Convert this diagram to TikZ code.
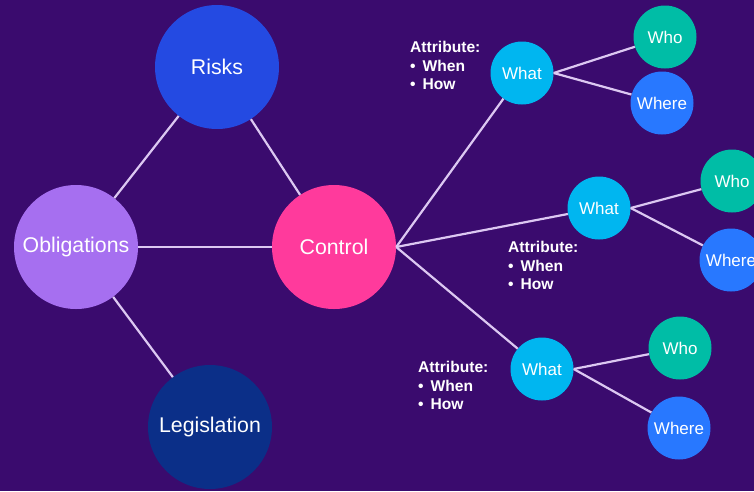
\documentclass[tikz,border=0pt]{standalone}
\usepackage{fontspec}
\setmainfont{Liberation Sans}
\definecolor{bgpurple}{HTML}{3A0B6E}
\definecolor{linkcol}{HTML}{DCC8F2}
\definecolor{oblcol}{HTML}{A66FF0}
\definecolor{riskcol}{HTML}{244AE2}
\definecolor{ctlcol}{HTML}{FF3A9C}
\definecolor{legcol}{HTML}{0B2F88}
\definecolor{whatcol}{HTML}{00B6F0}
\definecolor{whocol}{HTML}{00BDA6}
\definecolor{wherecol}{HTML}{2878FF}

\begin{document}
\begin{tikzpicture}[x=1pt,y=-1pt,
    bigbub/.style={circle,minimum size=124pt,inner sep=0pt,text=white,
      font=\fontsize{21.3}{25}\selectfont},
    smallbub/.style={circle,minimum size=63pt,inner sep=0pt,text=white,
      font=\fontsize{17}{20}\selectfont},
    link/.style={draw=linkcol,line width=2.2pt},
    attr/.style={text=white,font=\bfseries\fontsize{15.6}{18.5}\selectfont,
      align=left,anchor=north west,inner sep=0pt}]
  % background
  \fill[bgpurple] (0,0) rectangle (754,491);
  \useasboundingbox (0,0) rectangle (754,491);
  % main bubbles
  \node[bigbub,fill=oblcol]  (obl)  at (76,247)  {Obligations};
  \node[bigbub,fill=riskcol] (risk) at (217,67)  {Risks};
  \node[bigbub,fill=ctlcol]  (ctl)  at (334,247) {Control};
  \node[bigbub,fill=legcol]  (leg)  at (210,427) {Legislation};
  % what / who / where
  \node[smallbub,fill=whatcol]  (what1)  at (522,73)  {What};
  \node[smallbub,fill=whatcol]  (what2)  at (599,208) {What};
  \node[smallbub,fill=whatcol]  (what3)  at (542,369) {What};
  \node[smallbub,fill=whocol]   (who1)   at (665,37)  {Who};
  \node[smallbub,fill=wherecol] (where1) at (662,103) {Where};
  \node[smallbub,fill=whocol]   (who2)   at (732,181) {Who};
  \node[smallbub,fill=wherecol] (where2) at (731,260) {Where};
  \node[smallbub,fill=whocol]   (who3)   at (680,348) {Who};
  \node[smallbub,fill=wherecol] (where3) at (679,428) {Where};
  % links
  \draw[link] (obl) -- (risk);
  \draw[link] (obl) -- (ctl);
  \draw[link] (obl) -- (leg);
  \draw[link] (risk) -- (ctl);
  \foreach \i in {1,2,3} {
    \draw[link] (ctl.east) -- (what\i);
    \draw[link] (what\i.east) -- (who\i);
    \draw[link] (what\i.east) -- (where\i);
  }
  % attribute notes
  \node[attr] (attr1) at (410,41)  {Attribute:\\ \textbullet\hspace{7pt}When\\ \textbullet\hspace{7pt}How};
  \node[attr] (attr2) at (508,241) {Attribute:\\ \textbullet\hspace{7pt}When\\ \textbullet\hspace{7pt}How};
  \node[attr] (attr3) at (418,361) {Attribute:\\ \textbullet\hspace{7pt}When\\ \textbullet\hspace{7pt}How};
\end{tikzpicture}
\end{document}
